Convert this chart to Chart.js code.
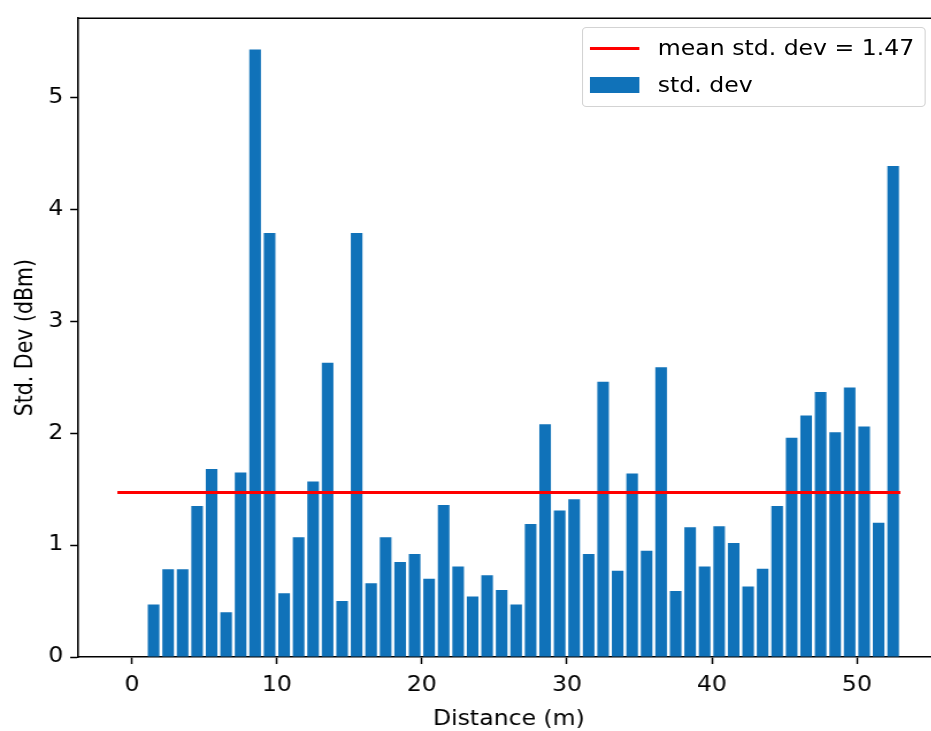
<!DOCTYPE html>
<html>
<head>
<meta charset="utf-8">
<script src="https://cdn.jsdelivr.net/npm/chart.js@4.4.1/dist/chart.umd.min.js"></script>
<style>
  html, body { margin: 0; padding: 0; background: #fff; overflow: hidden; }
  /* the source picture is stretched sideways, so the whole chart is too */
  #wrap { position: absolute; left: 0; top: 0; width: 830px; height: 731px; transform: scaleX(1.15); transform-origin: 0 0; }
  #legend { position: absolute; left: 506px; top: 27px; width: 297px; height: 78px; border: 1px solid #d3d3d3; border-radius: 4px;
            background: rgba(255,255,255,0.85); font-family: 'DejaVu Sans'; font-size: 20.5px; line-height: 20.5px; color: #000; }
  #legend .item { position: absolute; left: 0; height: 20px; width: 100%; }
  #legend .swatch { position: absolute; left: 6px; width: 43px; }
  #legend .label { position: absolute; left: 65px; top: 0; white-space: nowrap; }
</style>
</head>
<body>
<div id="wrap">
  <canvas id="stdChart" width="830" height="731"></canvas>
  <div id="legend"></div>
</div>
<script>
// distance of each bar (m)
const distances = [1.5, 2.5, 3.5, 4.5, 5.5, 6.5, 7.5, 8.5, 9.5, 10.5,
  11.5, 12.5, 13.5, 14.5, 15.5, 16.5, 17.5, 18.5, 19.5, 20.5,
  21.5, 22.5, 23.5, 24.5, 25.5, 26.5, 27.5, 28.5, 29.5, 30.5,
  31.5, 32.5, 33.5, 34.5, 35.5, 36.5, 37.5, 38.5, 39.5, 40.5,
  41.5, 42.5, 43.5, 44.5, 45.5, 46.5, 47.5, 48.5, 49.5, 50.5,
  51.5, 52.5];
// std. dev (dBm)
const stdDev = [0.47, 0.785, 0.785, 1.35, 1.68, 0.40, 1.65, 5.43, 3.79, 0.57,
  1.07, 1.57, 2.63, 0.50, 3.79, 0.66, 1.07, 0.85, 0.92, 0.70,
  1.36, 0.81, 0.54, 0.73, 0.60, 0.47, 1.19, 2.08, 1.31, 1.41,
  0.92, 2.46, 0.77, 1.64, 0.95, 2.59, 0.59, 1.16, 0.81, 1.17,
  1.02, 0.63, 0.79, 1.35, 1.96, 2.16, 2.37, 2.01, 2.41, 2.06,
  1.20, 4.39];
const meanStdDev = 1.47;
const meanLineX = [-1, 53];
const xTickValues = [0, 10, 20, 30, 40, 50];
const yTickValues = [0, 1, 2, 3, 4, 5];

const barColor = '#1072b9';
const lineColor = '#ff0000';

Chart.defaults.font.family = "'DejaVu Sans'";
Chart.defaults.font.size = 20.5;
Chart.defaults.color = '#000';

// matplotlib style frame (top + right spines)
const frame = {
  id: 'frame',
  afterDraw(chart) {
    const { ctx, chartArea: a } = chart;
    ctx.save();
    ctx.strokeStyle = '#000';
    ctx.lineWidth = 1.6;
    ctx.beginPath();
    ctx.moveTo(a.left, a.top);
    ctx.lineTo(a.right, a.top);
    ctx.lineTo(a.right, a.bottom);
    ctx.stroke();
    ctx.restore();
  }
};

const chart = new Chart(document.getElementById('stdChart'), {
  type: 'bar',
  data: {
    datasets: [
      {
        type: 'line',
        label: 'mean std. dev = ' + meanStdDev,
        data: meanLineX.map(x => ({ x: x, y: meanStdDev })),
        borderColor: lineColor,
        borderWidth: 3,
        pointRadius: 0,
        order: 0
      },
      {
        label: 'std. dev',
        data: distances.map((d, i) => ({ x: d, y: stdDev[i] })),
        backgroundColor: barColor,
        borderWidth: 0,
        barPercentage: 0.8,
        categoryPercentage: 1.0,
        order: 1
      }
    ]
  },
  options: {
    responsive: false,
    animation: false,
    devicePixelRatio: 1,
    layout: { padding: { left: 0, right: 13, top: 15, bottom: 0 } },
    plugins: { legend: { display: false }, tooltip: { enabled: false } },
    scales: {
      x: {
        type: 'linear',
        offset: false,
        min: -3.7,
        max: 55.7,
        afterBuildTicks: s => { s.ticks = xTickValues.map(v => ({ value: v })); },
        afterFit: s => { s.height = 74; },
        ticks: { padding: 9, maxRotation: 0 },
        grid: { offset: false, drawOnChartArea: false, drawTicks: true, tickLength: 7, tickWidth: 1.5, tickColor: '#000' },
        border: { display: true, color: '#000', width: 1.6 },
        title: { display: true, text: 'Distance (m)', font: { size: 20.5, lineHeight: 1.08 }, padding: { top: 0, bottom: 0 } }
      },
      y: {
        min: 0,
        max: 5.71,
        afterBuildTicks: s => { s.ticks = yTickValues.map(v => ({ value: v })); },
        afterFit: s => { s.width = 68; },
        ticks: { padding: 6 },
        grid: { drawOnChartArea: false, drawTicks: true, tickLength: 7, tickWidth: 1.5, tickColor: '#000' },
        border: { display: true, color: '#000', width: 1.6 },
        title: { display: true, text: 'Std. Dev (dBm)', font: { size: 20.5, lineHeight: 1.08 }, padding: { top: 12, bottom: 0 } }
      }
    }
  },
  plugins: [frame]
});

// legend box, built from the datasets
const legend = document.getElementById('legend');
const rows = [
  { ds: chart.data.datasets[0], top: 10, swatch: 'top:9px;height:3px;', color: 'borderColor' },
  { ds: chart.data.datasets[1], top: 47, swatch: 'top:2px;height:16px;', color: 'backgroundColor' }
];
rows.forEach(r => {
  const item = document.createElement('div');
  item.className = 'item';
  item.style.top = r.top + 'px';
  item.innerHTML = '<div class="swatch" style="' + r.swatch + 'background:' + r.ds[r.color] + '"></div>' +
    '<div class="label">' + r.ds.label + '</div>';
  legend.appendChild(item);
});
</script>
</body>
</html>
